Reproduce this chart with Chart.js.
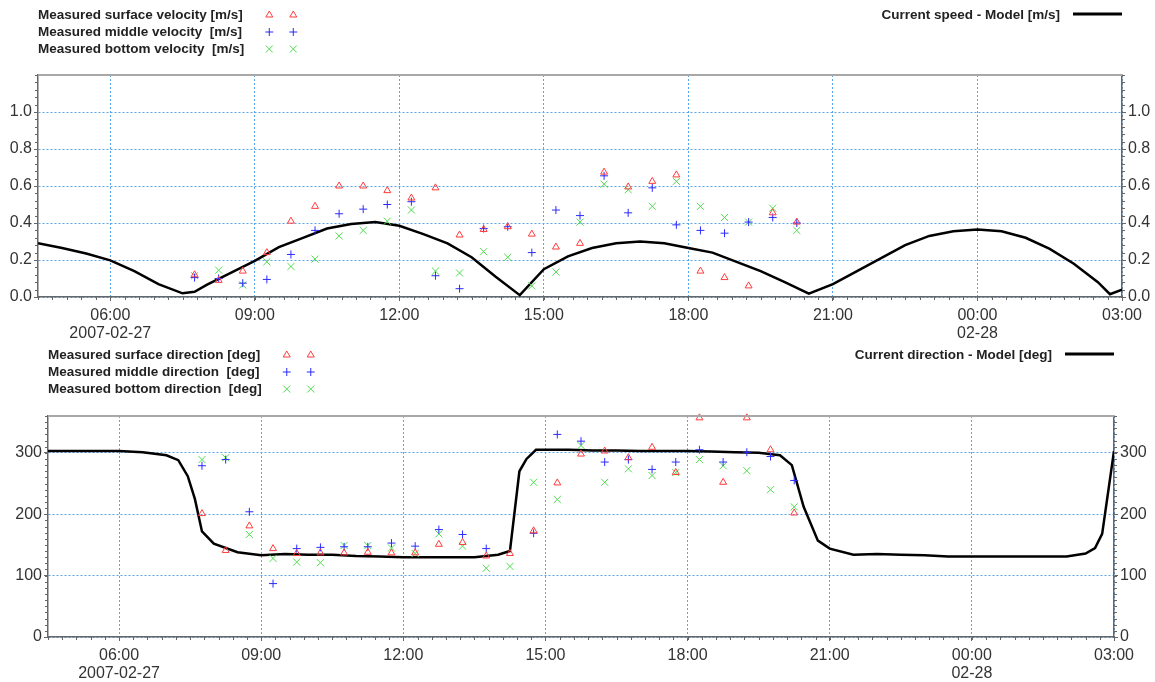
<!DOCTYPE html>
<html>
<head>
<meta charset="utf-8">
<script src="https://cdn.jsdelivr.net/npm/chart.js@4.4.1/dist/chart.umd.min.js"></script>
<style>
  body { margin: 0; background: #fff; width: 1155px; height: 682px; overflow: hidden; position: relative; }
  canvas { position: absolute; left: 0; }
  #speedChart { top: 0; }
  #dirChart { top: 340px; }
</style>
</head>
<body>
<canvas id="speedChart" width="1155" height="340"></canvas>
<canvas id="dirChart" width="1155" height="342"></canvas>
<script>
// time is in hours counted from 2007-02-27 00:00
var tickHours = [6, 9, 12, 15, 18, 21, 24, 27];
var tickLabels = [["06:00", "2007-02-27"], "09:00", "12:00", "15:00", "18:00", "21:00", ["00:00", "02-28"], "03:00"];

// measurement times (hours)
var measTimes = [7.75, 8.25, 8.75, 9.25, 9.75, 10.25, 10.75, 11.25, 11.75, 12.25, 12.75, 13.25, 13.75,
                 14.25, 14.75, 15.25, 15.75, 16.25, 16.75, 17.25, 17.75, 18.25, 18.75, 19.25, 19.75, 20.25];

// speed [m/s]
var surfSpeed = [0.12, 0.09, 0.14, 0.24, 0.41, 0.49, 0.60, 0.60, 0.575, 0.535, 0.59, 0.335, 0.365,
                 0.38, 0.34, 0.27, 0.29, 0.675, 0.595, 0.625, 0.66, 0.14, 0.105, 0.06, 0.455, 0.405];
var midSpeed = [0.105, 0.10, 0.075, 0.095, 0.23, 0.36, 0.45, 0.475, 0.50, 0.515, 0.115, 0.045, 0.37,
                0.38, 0.24, 0.47, 0.44, 0.655, 0.455, 0.59, 0.39, 0.36, 0.345, 0.405, 0.43, 0.40];
var botSpeed = [0.115, 0.145, 0.065, 0.19, 0.165, 0.205, 0.33, 0.36, 0.41, 0.47, 0.14, 0.13, 0.245,
                0.215, 0.06, 0.135, 0.405, 0.61, 0.58, 0.49, 0.625, 0.49, 0.43, 0.405, 0.48, 0.36];

var modelSpeedHours = [4.5, 5.0, 5.5, 6.0, 6.5, 7.0, 7.5, 7.75, 8.0, 8.5, 9.0, 9.5, 10.0, 10.5, 11.0, 11.5,
                       12.0, 12.5, 13.0, 13.5, 14.0, 14.5, 15.0, 15.5, 16.0, 16.5, 17.0, 17.5, 18.0, 18.5,
                       19.0, 19.5, 20.0, 20.5, 21.0, 21.5, 22.0, 22.5, 23.0, 23.5, 24.0, 24.5, 25.0, 25.5,
                       26.0, 26.5, 26.75, 27.0];
var modelSpeed = [0.29, 0.265, 0.235, 0.198, 0.14, 0.07, 0.02, 0.028, 0.065, 0.13, 0.195, 0.27, 0.32, 0.37, 0.395, 0.405,
                  0.385, 0.34, 0.29, 0.215, 0.11, 0.01, 0.15, 0.22, 0.265, 0.29, 0.30, 0.29, 0.265, 0.24,
                  0.19, 0.14, 0.08, 0.018, 0.07, 0.14, 0.21, 0.28, 0.33, 0.355, 0.365, 0.355, 0.32, 0.26,
                  0.18, 0.08, 0.015, 0.04];

var speedTicks = [0, 0.2, 0.4, 0.6, 0.8, 1.0];
var speedTickLabels = ["0.0", "0.2", "0.4", "0.6", "0.8", "1.0"];

// direction [deg]
var surfDir = [201, 141, 181, 144, 136, 137, 137, 138, 137, 137, 151, 154, 132,
               136, 173, 251, 298, 303, 292, 309, 268, 357, 252, 357, 305, 202];
var midDir = [279, 289, 204, 87, 144, 146, 147, 147, 153, 148, 175, 167, 144,
              null, 169, 330, 319, 285, 289, 273, 285, 305, 285, 301, 294, 255];
var botDir = [289, 292, 167, 128, 122, 121, 149, 149, 145, 136, 168, 148, 112,
              115, 252, 224, 312, 252, 274, 263, 268, 289, 279, 271, 240, 212];

var modelDirHours = [4.5, 5.0, 5.5, 6.0, 6.5, 7.0, 7.25, 7.45, 7.6, 7.75, 8.0, 8.5, 9.0, 9.5, 10.0, 10.5,
                     11.0, 11.5, 12.0, 12.5, 13.0, 13.5, 14.0, 14.25, 14.45, 14.6, 14.8, 15.0, 15.5, 16.0,
                     16.5, 17.0, 17.5, 18.0, 18.5, 19.0, 19.5, 19.95, 20.2, 20.45, 20.75, 21.0, 21.5, 22.0,
                     22.5, 23.0, 23.5, 24.0, 24.5, 25.0, 25.5, 26.0, 26.4, 26.6, 26.75, 27.0];
var modelDir = [303, 303, 303, 303, 301, 296, 288, 262, 225, 172, 152, 138, 133, 135, 134, 134,
                132, 131, 130, 130, 130, 130, 134, 140, 270, 290, 305, 305, 305, 304,
                304, 303, 303, 303, 302, 301, 300, 296, 280, 212, 157, 144, 134, 135,
                134, 133, 131, 131, 131, 131, 131, 131, 136, 145, 168, 303];

var dirTicks = [0, 100, 200, 300];
var dirTickLabels = ["0", "100", "200", "300"];

var FONT = '"Liberation Sans", Arial, sans-serif';

function pts(xs, ys) {
  return xs.map(function (x, i) { return { x: x, y: ys[i] }; });
}

// frame top line, minor ticks and the legend laid out like the original
var extras = {
  id: 'extras',
  afterDraw: function (chart, args, opts) {
    var ctx = chart.ctx, a = chart.chartArea;
    var xs = chart.scales.x, ys = chart.scales.y;
    ctx.save();
    ctx.strokeStyle = '#a8a8a8';
    ctx.lineWidth = 2;
    ctx.beginPath();
    ctx.moveTo(a.left, a.top);
    ctx.lineTo(a.right, a.top);
    ctx.stroke();

    ctx.strokeStyle = '#666';
    ctx.lineWidth = 1;
    ctx.beginPath();
    for (var i = 0; i <= 75; i++) {
      var px = Math.round(xs.getPixelForValue(4.5 + i * 0.3)) + 0.5;
      ctx.moveTo(px, a.bottom);
      ctx.lineTo(px, a.bottom + 3);
    }
    var n = Math.round((ys.max - ys.min) / opts.minorStep);
    for (var j = 0; j <= n; j++) {
      var py = Math.round(ys.getPixelForValue(ys.min + j * opts.minorStep)) + 0.5;
      ctx.moveTo(a.left, py);
      ctx.lineTo(a.left - 3, py);
      ctx.moveTo(a.right, py);
      ctx.lineTo(a.right + 3, py);
    }
    ctx.stroke();

    // legend
    var sets = chart.data.datasets;
    var rows = [15, 32, 49];
    ctx.font = 'bold 13.5px ' + FONT;
    ctx.textBaseline = 'middle';
    ctx.textAlign = 'left';
    var maxW = 0;
    for (var k = 0; k < 3; k++) maxW = Math.max(maxW, ctx.measureText(sets[k].label).width);
    for (k = 0; k < 3; k++) {
      ctx.fillStyle = '#222';
      ctx.fillText(sets[k].label, a.left, rows[k]);
      [25, 49].forEach(function (dx) {
        ctx.strokeStyle = sets[k].borderColor;
        ctx.fillStyle = 'rgba(0,0,0,0)';
        ctx.lineWidth = 1;
        Chart.helpers.drawPoint(ctx, {
          pointStyle: sets[k].pointStyle, radius: sets[k].pointRadius, borderWidth: 1, rotation: 0
        }, a.left + maxW + dx, rows[k]);
      });
    }
    var m = sets[3];
    ctx.fillStyle = '#222';
    ctx.textAlign = 'right';
    ctx.fillText(m.label, a.right - 62, 15);
    ctx.strokeStyle = '#000';
    ctx.lineWidth = 3;
    ctx.beginPath();
    ctx.moveTo(a.right - 49, 14);
    ctx.lineTo(a.right, 14);
    ctx.stroke();
    ctx.restore();
  }
};

function makeChart(id, cfg) {
  var gridBlue = '#5aa5e8';
  var yTicks = {
    color: '#333',
    font: { family: FONT, size: 16 },
    padding: 2,
    callback: function (v, i) { return cfg.yLabels[i]; }
  };
  function setYTicks(s) { s.ticks = cfg.yTicks.map(function (v) { return { value: v }; }); }

  return new Chart(document.getElementById(id), {
    type: 'scatter',
    data: {
      datasets: [
        { label: cfg.names[0], data: pts(measTimes, cfg.surf), pointStyle: 'triangle', pointRadius: 4,
          borderColor: '#ff3b3b', backgroundColor: 'rgba(0,0,0,0)', borderWidth: 1, clip: false },
        { label: cfg.names[1], data: pts(measTimes, cfg.mid), pointStyle: 'cross', pointRadius: 4,
          borderColor: '#2b2bff', backgroundColor: 'rgba(0,0,0,0)', borderWidth: 1, clip: false },
        { label: cfg.names[2], data: pts(measTimes, cfg.bot), pointStyle: 'crossRot', pointRadius: 5,
          borderColor: '#4fdc4f', backgroundColor: 'rgba(0,0,0,0)', borderWidth: 1, clip: false },
        { label: cfg.names[3], data: pts(cfg.modelHours, cfg.model), showLine: true, pointRadius: 0,
          borderColor: '#000', borderWidth: 2.5, tension: 0 }
      ]
    },
    options: {
      responsive: false,
      animation: false,
      devicePixelRatio: 1,
      layout: { padding: { top: cfg.top, left: 0, right: 0, bottom: 0 } },
      plugins: { legend: { display: false }, tooltip: { enabled: false }, extras: { minorStep: cfg.minor } },
      scales: {
        x: {
          type: 'linear', min: 4.5, max: 27,
          afterBuildTicks: function (s) { s.ticks = tickHours.map(function (v) { return { value: v }; }); },
          afterFit: function (s) { s.height = cfg.xHeight; },
          ticks: {
            autoSkip: false, maxRotation: 0, color: '#333', padding: 5,
            font: { family: FONT, size: 16, lineHeight: 1.15 },
            callback: function (v, i) { return tickLabels[i]; }
          },
          grid: { color: gridBlue, lineWidth: 1, tickColor: '#666', tickLength: 4 },
          border: { color: '#666', width: 1.5, dash: [2, 2] }
        },
        y: {
          position: 'left', min: 0, max: cfg.yMax,
          afterBuildTicks: setYTicks,
          afterFit: function (s) { s.width = cfg.leftW; },
          ticks: yTicks,
          grid: { color: gridBlue, lineWidth: 1, tickColor: '#666', tickLength: 4 },
          border: { color: '#666', width: 1.5, dash: [2, 2] }
        },
        y2: {
          position: 'right', min: 0, max: cfg.yMax,
          afterBuildTicks: setYTicks,
          afterFit: function (s) { s.width = cfg.rightW; },
          ticks: yTicks,
          grid: { drawOnChartArea: false, tickColor: '#666', tickLength: 4 },
          border: { color: '#666', width: 1.5 }
        }
      }
    },
    plugins: [extras]
  });
}

makeChart('speedChart', {
  names: ['Measured surface velocity [m/s]', 'Measured middle velocity  [m/s]',
          'Measured bottom velocity  [m/s]', 'Current speed - Model [m/s]'],
  surf: surfSpeed, mid: midSpeed, bot: botSpeed,
  modelHours: modelSpeedHours, model: modelSpeed,
  yTicks: speedTicks, yLabels: speedTickLabels, yMax: 1.2, minor: 0.04,
  top: 75, xHeight: 43, leftW: 38, rightW: 33
});

makeChart('dirChart', {
  names: ['Measured surface direction [deg]', 'Measured middle direction  [deg]',
          'Measured bottom direction  [deg]', 'Current direction - Model [deg]'],
  surf: surfDir, mid: midDir, bot: botDir,
  modelHours: modelDirHours, model: modelDir,
  yTicks: dirTicks, yLabels: dirTickLabels, yMax: 360, minor: 10,
  top: 76, xHeight: 45, leftW: 48, rightW: 41
});
</script>
</body>
</html>
